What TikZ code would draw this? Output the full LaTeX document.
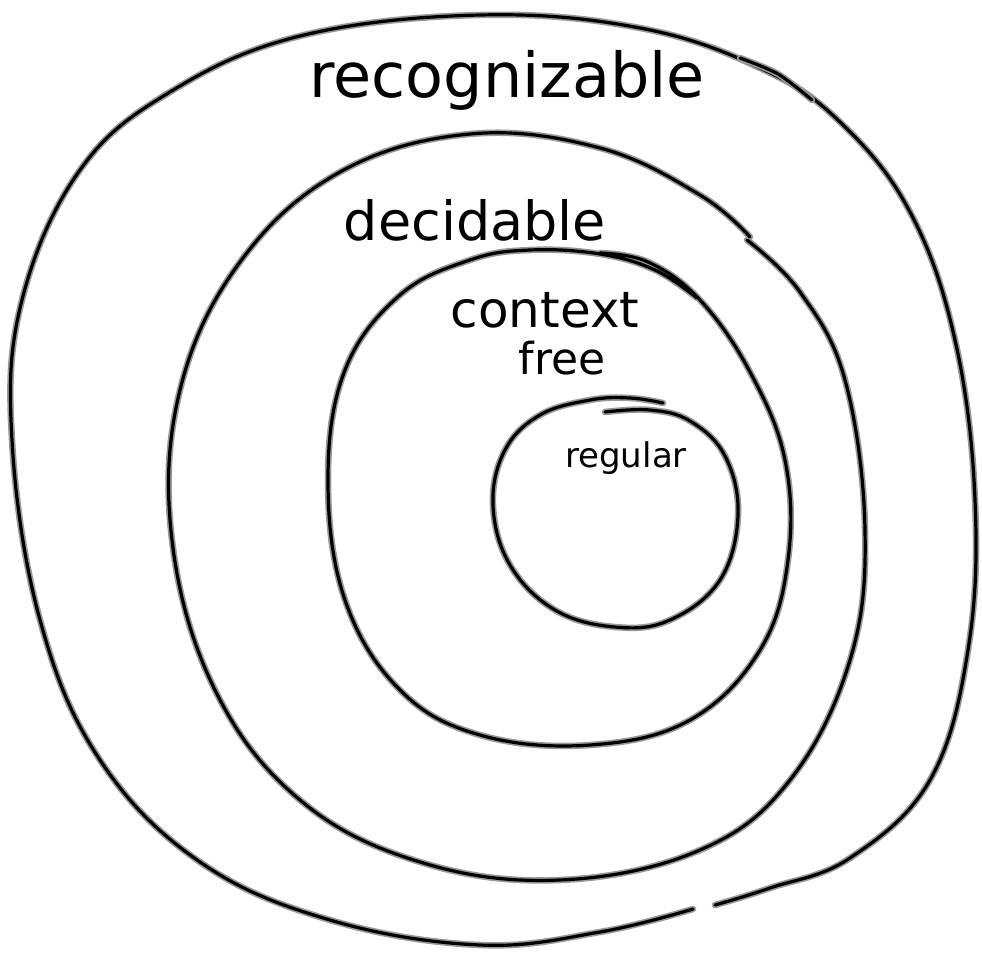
\documentclass[tikz,border=0pt]{standalone}
\usepackage{fontspec}
\setmainfont{DejaVu Sans}
\begin{document}
\begin{tikzpicture}[x=1pt,y=-1pt,
  sk/.style={draw=gray!80, line width=6.5pt, line cap=round, line join=round,
    postaction={draw=black, line width=3.2pt}},
  lbl/.style={text=black, inner sep=0pt}]
\useasboundingbox[fill=white] (0,0) rectangle (982,953);
% outer: recognizable
\draw[sk] plot[smooth, tension=0.65] coordinates {(693,909) (600,932) (480,945) (330,920) (200,862) (100,760) (40,620) (12,440) (22,300) (80,170) (170,92) (300,36) (480,15) (640,28) (760,68) (840,122) (910,212) (955,340) (975,500) (968,650) (930,780) (850,858) (770,888) (715,905)};
\draw[sk] plot[smooth] coordinates {(740,58) (778,74) (812,100)};
% decidable
\draw[sk] plot[smooth, tension=0.65] coordinates {(747,240) (800,292) (845,380) (865,530) (850,660) (790,780) (700,850) (560,880) (420,862) (300,800) (215,690) (172,540) (180,390) (240,262) (340,172) (470,134) (600,148) (700,195) (750,237)};
% context free
\draw[sk] plot[smooth, tension=0.65] coordinates {(600,253) (648,262) (700,300) (750,372) (785,460) (788,560) (760,650) (690,720) (590,745) (480,735) (400,690) (345,600) (328,480) (345,370) (400,295) (470,260) (530,250) (600,254) (655,270) (697,298)};
% regular
\draw[sk] plot[smooth, tension=0.65] coordinates {(605,412) (650,410) (690,421) (725,456) (738,515) (720,580) (670,620) (615,627) (555,610) (510,565) (493,505) (505,450) (540,415) (590,400) (630,398) (663,403)};
% labels
\node[lbl, font=\fontsize{62}{62}\selectfont] (rec) at (507,80) {recognizable};
\node[lbl, font=\fontsize{54}{54}\selectfont] (dec) at (475,220) {decidable};
\node[lbl, font=\fontsize{50}{50}\selectfont] (ctx) at (545,310) {context};
\node[lbl, font=\fontsize{44}{44}\selectfont] (fre) at (562,358) {free};
\node[lbl, font=\fontsize{34}{34}\selectfont] (reg) at (626,458) {regular};
\end{tikzpicture}
\end{document}
